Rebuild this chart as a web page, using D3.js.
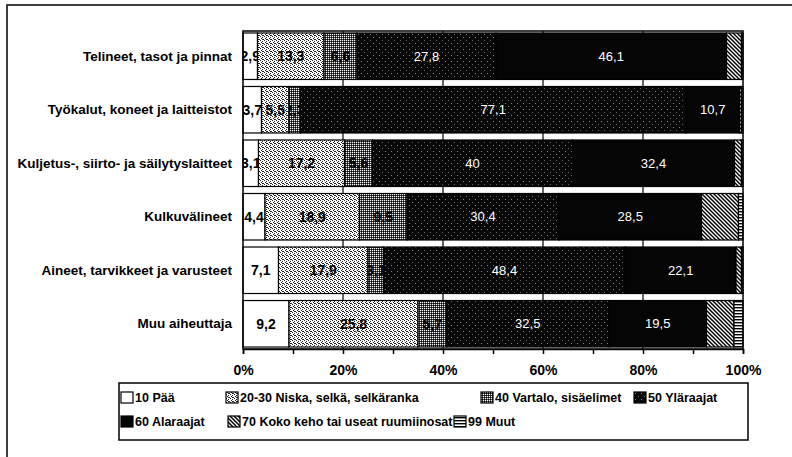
<!DOCTYPE html>
<html>
<head>
<meta charset="utf-8">
<script src="https://d3js.org/d3.v7.min.js"></script>
<style>
body { margin: 0; background: #fff; }
text { font-family: "Liberation Sans", Arial, sans-serif; }
</style>
</head>
<body>
<script>
// categories, top to bottom
var categories = ["Telineet, tasot ja pinnat", "Työkalut, koneet ja laitteistot",
  "Kuljetus-, siirto- ja säilytyslaitteet", "Kulkuvälineet",
  "Aineet, tarvikkeet ja varusteet", "Muu aiheuttaja"];

var seriesNames = ["10 Pää", "20-30 Niska, selkä, selkäranka", "40 Vartalo, sisäelimet",
  "50 Yläraajat", "60 Alaraajat", "70 Koko keho tai useat ruumiinosat", "99  Muut"];

// percent per category
var paa      = [2.9, 3.7, 3.1, 4.4, 7.1, 9.2];
var niska    = [13.3, 5.5, 17.2, 18.9, 17.9, 25.8];
var vartalo  = [6.6, 2.3, 5.6, 9.5, 3.1, 5.7];
var ylaraajat = [27.8, 77.1, 40, 30.4, 48.4, 32.5];
var alaraajat = [46.1, 10.7, 32.4, 28.5, 22.1, 19.5];
var kokoKeho = [3.0, 0.4, 1.4, 7.4, 1.1, 5.5];
var muut     = [0.3, 0.3, 0.3, 0.9, 0.3, 1.8];

var tickValues = [0, 20, 40, 60, 80, 100];

var seriesValues = [paa, niska, vartalo, ylaraajat, alaraajat, kokoKeho, muut];
var keys = ["s10", "s20", "s40", "s50", "s60", "s70", "s99"];

var table = categories.map(function(c, i) {
  var row = {cat: c};
  keys.forEach(function(k, j) { row[k] = seriesValues[j][i]; });
  return row;
});

var width = 792, height = 457;
var svg = d3.select("body").append("svg").attr("width", width).attr("height", height);

// fill patterns, the original is a black and white print
var defs = svg.append("defs");
function pat(id, w, h) {
  return defs.append("pattern").attr("id", id).attr("patternUnits", "userSpaceOnUse")
    .attr("width", w).attr("height", h);
}
var p20 = pat("p20", 4, 4);
p20.append("rect").attr("width", 4).attr("height", 4).attr("fill", "#fff");
[[0,0],[2,1],[1,2],[3,3],[2,3]].forEach(function(d) {
  p20.append("rect").attr("x", d[0]).attr("y", d[1]).attr("width", 1).attr("height", 1).attr("fill", "#222");
});
var p40 = pat("p40", 2, 2);
p40.append("rect").attr("width", 2).attr("height", 2).attr("fill", "#444");
p40.append("rect").attr("width", 1).attr("height", 1).attr("fill", "#fff");
p40.append("rect").attr("x", 1).attr("y", 1).attr("width", 1).attr("height", 1).attr("fill", "#000");
var p50 = pat("p50", 6, 6);
p50.append("rect").attr("width", 6).attr("height", 6).attr("fill", "#080808");
p50.append("rect").attr("x", 1).attr("y", 1).attr("width", 1).attr("height", 1).attr("fill", "#888");
p50.append("rect").attr("x", 4).attr("y", 4).attr("width", 1).attr("height", 1).attr("fill", "#666");
var p70 = pat("p70", 4, 4);
p70.append("rect").attr("width", 4).attr("height", 4).attr("fill", "#fff");
p70.append("path").attr("d", "M-1,-1 L5,5 M3,-1 L5,1 M-1,3 L1,5").attr("stroke", "#000").attr("stroke-width", 1.5);
var p99 = pat("p99", 4, 3);
p99.append("rect").attr("width", 4).attr("height", 3).attr("fill", "#fff");
p99.append("rect").attr("y", 1).attr("width", 4).attr("height", 1.4).attr("fill", "#000");

var fills = ["#fff", "url(#p20)", "url(#p40)", "url(#p50)", "#050505", "url(#p70)", "url(#p99)"];

// outer frame (only left and top edges are inside the picture)
svg.append("path").attr("d", "M7,470 L7,5 L800,5")
  .attr("fill", "none").attr("stroke", "#000").attr("stroke-width", 1.5);

var x = d3.scaleLinear().domain([0, 100]).range([243, 743]);
var y = d3.scaleBand().domain(categories).range([31, 349]).paddingInner(0.131).paddingOuter(0.037);

// gridlines
svg.append("g").selectAll("line").data([20, 40, 60, 80]).enter().append("line")
  .attr("x1", function(d) { return x(d); }).attr("x2", function(d) { return x(d); })
  .attr("y1", 31).attr("y2", 349).attr("stroke", "#000").attr("stroke-width", 1.2);

var stacked = d3.stack().keys(keys)(table);

var layer = svg.append("g").selectAll("g").data(stacked).enter().append("g")
  .attr("fill", function(d, i) { return fills[i]; });

layer.selectAll("rect").data(function(d) { return d; }).enter().append("rect")
  .attr("x", function(d) { return x(d[0]); })
  .attr("y", function(d) { return y(d.data.cat); })
  .attr("width", function(d) { return x(d[1]) - x(d[0]); })
  .attr("height", y.bandwidth())
  .attr("stroke", "#000").attr("stroke-width", 1.2);

// value labels, clipped to their own segment
stacked.forEach(function(s, i) {
  if (i > 4) return;
  s.forEach(function(d, r) {
    if (d[1] - d[0] < 2) return;
    var id = "c" + i + "_" + r;
    defs.append("clipPath").attr("id", id).append("rect")
      .attr("x", x(d[0])).attr("y", y(d.data.cat))
      .attr("width", x(d[1]) - x(d[0])).attr("height", y.bandwidth());
    svg.append("text")
      .attr("clip-path", "url(#" + id + ")")
      .attr("x", (x(d[0]) + x(d[1])) / 2)
      .attr("y", y(d.data.cat) + y.bandwidth() / 2)
      .attr("dy", "0.35em")
      .attr("text-anchor", "middle")
      .attr("font-size", i > 2 ? 13 : 14)
      .attr("font-weight", i > 2 ? "normal" : "bold")
      .attr("fill", i > 2 ? "#fff" : "#000")
      .text(String(d.data[keys[i]]).replace(".", ","));
  });
});

// plot frame
svg.append("rect").attr("x", 243).attr("y", 31).attr("width", 500).attr("height", 318)
  .attr("fill", "none").attr("stroke", "#000").attr("stroke-width", 1.5);

// category labels
svg.append("g").selectAll("text").data(categories).enter().append("text")
  .attr("x", 232)
  .attr("y", function(d) { return y(d) + y.bandwidth() / 2; })
  .attr("dy", "0.35em")
  .attr("text-anchor", "end")
  .attr("font-size", 13.5).attr("font-weight", "bold")
  .text(function(d) { return d; });

// x axis
var axis = svg.append("g").attr("transform", "translate(0,349)")
  .call(d3.axisBottom(x).tickValues(d3.range(0, 101, 10)).tickSize(5)
    .tickFormat(function(d) { return tickValues.indexOf(d) >= 0 ? d + "%" : ""; }));
axis.select(".domain").attr("stroke-width", 1.5);
axis.selectAll(".tick line").attr("stroke-width", 1.5);
axis.selectAll(".tick text").attr("font-family", "Liberation Sans, Arial, sans-serif")
  .attr("font-size", 14).attr("font-weight", "bold").attr("y", 16);

// legend
var legendRows = [[0, 1, 2, 3], [4, 5, 6]];
var legendStart = [[121, 226, 481, 634], [121, 228, 454]];
var legendY = [398, 422];
svg.append("rect").attr("x", 119).attr("y", 383).attr("width", 629).attr("height", 57)
  .attr("fill", "#fff").attr("stroke", "#000").attr("stroke-width", 1.5);
legendRows.forEach(function(row, r) {
  var g = svg.append("g").selectAll("g").data(row).enter().append("g")
    .attr("transform", function(d, j) { return "translate(" + legendStart[r][j] + "," + legendY[r] + ")"; });
  g.append("rect").attr("x", 0).attr("y", -6).attr("width", 12).attr("height", 11)
    .attr("fill", function(d) { return fills[d]; }).attr("stroke", "#000").attr("stroke-width", 1.2);
  g.append("text").attr("x", 14).attr("dy", "0.35em")
    .attr("font-size", 12.5).attr("font-weight", "bold")
    .text(function(d) { return seriesNames[d]; });
});
</script>
</body>
</html>
